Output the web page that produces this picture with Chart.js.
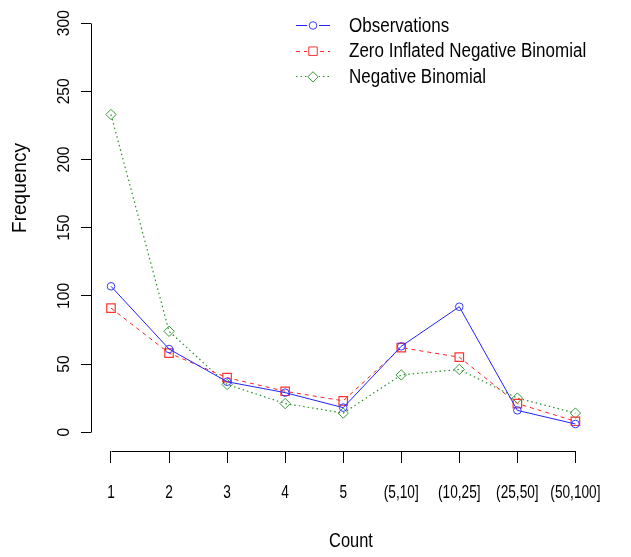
<!DOCTYPE html>
<html>
<head>
<meta charset="utf-8">
<script src="https://cdn.jsdelivr.net/npm/chart.js@4.4.1/dist/chart.umd.min.js"></script>
<style>
  html, body { margin: 0; padding: 0; background: #ffffff; }
  #wrap { width: 631px; height: 557px; position: relative; }
</style>
</head>
<body>
<div id="wrap"><canvas id="c" width="631" height="557"></canvas></div>
<script>
const categories = ['1', '2', '3', '4', '5', '(5,10]', '(10,25]', '(25,50]', '(50,100]'];
const observations = [107, 61, 37, 29, 18, 63, 92, 16, 6];
const zinb = [91, 58, 40, 30, 23, 62, 55, 21, 8];
const negbin = [233, 74, 35, 21, 14, 42, 46, 25, 14];
const yTicks = [0, 50, 100, 150, 200, 250, 300];
const seriesNames = ['Observations', 'Zero Inflated Negative Binomial', 'Negative Binomial'];
const xTitle = 'Count';
const yTitle = 'Frequency';

const FONT = "'Liberation Sans', Arial, sans-serif";

function toPoints(arr) { return arr.map((v, i) => ({ x: i + 1, y: v })); }

// draw horizontally condensed text (R output uses a narrow face)
function drawText(ctx, text, x, y, size, sx, rot, align) {
  ctx.save();
  ctx.translate(x, y);
  if (rot) ctx.rotate(rot);
  ctx.scale(sx, 1);
  ctx.font = size + 'px ' + FONT;
  ctx.fillStyle = '#000';
  ctx.textAlign = align || 'center';
  ctx.textBaseline = 'middle';
  ctx.fillText(text, 0, 0);
  ctx.restore();
}

const rAxes = {
  id: 'rAxes',
  afterDraw(chart) {
    const ctx = chart.ctx;
    const xs = chart.scales.x, ys = chart.scales.y;
    const area = chart.chartArea;
    ctx.save();
    ctx.strokeStyle = '#000';
    ctx.lineWidth = 1;
    // y axis line
    const yl = Math.round(area.left) + 0.5;
    ctx.beginPath();
    ctx.moveTo(yl, Math.round(ys.getPixelForValue(yTicks[0])) + 0.5);
    ctx.lineTo(yl, Math.round(ys.getPixelForValue(yTicks[yTicks.length - 1])) + 0.5);
    ctx.stroke();
    // x axis line
    const xl = Math.round(area.bottom) + 0.5;
    ctx.beginPath();
    ctx.moveTo(Math.round(xs.getPixelForValue(1)) + 0.5, xl);
    ctx.lineTo(Math.round(xs.getPixelForValue(categories.length)) + 0.5, xl);
    ctx.stroke();
    // y tick labels (rotated, R style)
    yTicks.forEach(v => {
      drawText(ctx, String(v), 64, ys.getPixelForValue(v), 17, 0.92, -Math.PI / 2);
    });
    // x tick labels
    categories.forEach((c, i) => {
      drawText(ctx, c, xs.getPixelForValue(i + 1), 493, 17.5, 0.78, 0);
    });
    // axis titles
    drawText(ctx, xTitle, 351, 541, 20, 0.82, 0);
    drawText(ctx, yTitle, 20, 188, 20, 0.95, -Math.PI / 2);
    // legend
    const lx0 = 296, lx1 = 330, tx = 349, ly0 = 25, dy = 25.7;
    chart.data.datasets.forEach((ds, i) => {
      const y = ly0 + i * dy;
      ctx.save();
      ctx.strokeStyle = ds.borderColor;
      ctx.lineWidth = ds.borderWidth;
      ctx.setLineDash(ds.borderDash || []);
      ctx.beginPath();
      ctx.moveTo(lx0, Math.round(y) + 0.5);
      ctx.lineTo(lx1, Math.round(y) + 0.5);
      ctx.stroke();
      ctx.setLineDash([]);
      const cx = (lx0 + lx1) / 2;
      ctx.fillStyle = '#fff';
      ctx.fillRect(cx - 6, y - 6, 12, 12);
      ctx.strokeStyle = ds.pointBorderColor;
      ctx.lineWidth = 1;
      ctx.beginPath();
      if (ds.pointStyle === 'circle') {
        ctx.arc(cx, y + 0.5, ds.pointRadius, 0, Math.PI * 2);
      } else if (ds.pointStyle === 'rect') {
        const s = ds.pointRadius * Math.SQRT1_2;
        ctx.rect(cx - s, y + 0.5 - s, 2 * s, 2 * s);
      } else {
        const r = ds.pointRadius;
        ctx.moveTo(cx - r, y + 0.5); ctx.lineTo(cx, y + 0.5 - r); ctx.lineTo(cx + r, y + 0.5); ctx.lineTo(cx, y + 0.5 + r); ctx.closePath();
      }
      ctx.stroke();
      ctx.restore();
      drawText(ctx, ds.label, tx, y + 1, 20, 0.85, 0, 'left');
    });
    ctx.restore();
  }
};

new Chart(document.getElementById('c'), {
  type: 'line',
  data: {
    datasets: [
      {
        label: seriesNames[0], data: toPoints(observations),
        borderColor: '#2222ff', borderWidth: 1, borderDash: [],
        pointStyle: 'circle', pointRadius: 3.8, pointBorderColor: '#3a3aff', pointBackgroundColor: 'rgba(0,0,0,0)', pointBorderWidth: 1,
        tension: 0, fill: false
      },
      {
        label: seriesNames[1], data: toPoints(zinb),
        borderColor: '#ff2222', borderWidth: 1, borderDash: [4, 4],
        pointStyle: 'rect', pointRadius: 6, pointBorderColor: '#ff3333', pointBackgroundColor: 'rgba(0,0,0,0)', pointBorderWidth: 1.2,
        tension: 0, fill: false
      },
      {
        label: seriesNames[2], data: toPoints(negbin),
        borderColor: '#2a8f2a', borderWidth: 1.2, borderDash: [1.5, 3],
        pointStyle: 'rectRot', pointRadius: 5.2, pointBorderColor: '#3a9a3a', pointBackgroundColor: 'rgba(0,0,0,0)', pointBorderWidth: 1,
        tension: 0, fill: false
      }
    ]
  },
  options: {
    responsive: false,
    animation: false,
    devicePixelRatio: 1,
    layout: { padding: { top: 4, right: 36, bottom: 4, left: 0 } },
    plugins: { legend: { display: false }, tooltip: { enabled: false } },
    scales: {
      x: {
        type: 'linear',
        min: 0.6555, max: 9.3375,
        afterFit(scale) { scale.height = 102; },
        afterBuildTicks(scale) { scale.ticks = categories.map((c, i) => ({ value: i + 1 })); },
        ticks: { display: false },
        grid: { display: true, drawOnChartArea: false, drawTicks: true, tickLength: 12, color: '#000', lineWidth: 1 },
        border: { display: false }
      },
      y: {
        type: 'linear',
        min: -13.8, max: 311.7,
        afterFit(scale) { scale.width = 91; },
        afterBuildTicks(scale) { scale.ticks = yTicks.map(v => ({ value: v })); },
        ticks: { display: false },
        grid: { display: true, drawOnChartArea: false, drawTicks: true, tickLength: 10, color: '#000', lineWidth: 1 },
        border: { display: false }
      }
    }
  },
  plugins: [rAxes]
});
</script>
</body>
</html>
